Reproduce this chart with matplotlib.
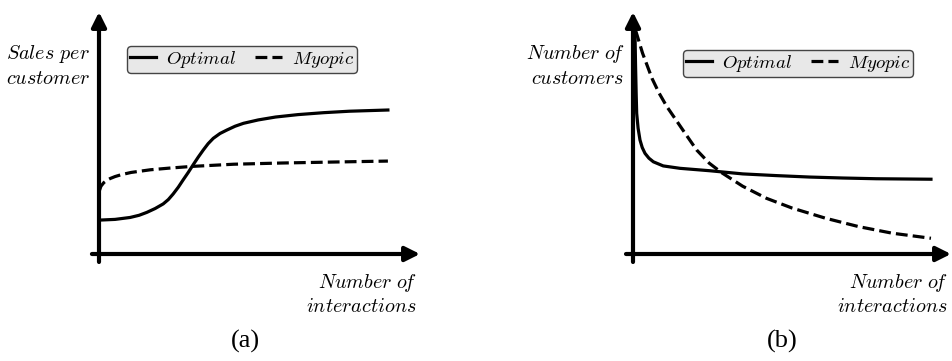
import matplotlib
matplotlib.use('Agg')
import matplotlib.pyplot as plt

plt.rcParams['mathtext.fontset'] = 'cm'

# (a) sales per customer vs number of interactions
sales_opt_x = [0, 0.5, 0.97, 1.25, 1.49, 1.75, 2.00, 2.16, 2.31, 2.47, 2.62, 2.78, 2.93, 3.09,
               3.25, 3.40, 3.56, 3.77, 3.98, 4.24, 4.50, 4.96, 5.5, 6.2, 7.0, 7.8, 9.0]
sales_opt_y = [1.40, 1.43, 1.51, 1.60, 1.72, 1.88, 2.07, 2.25, 2.48, 2.76, 3.06, 3.37, 3.68, 4.00,
               4.30, 4.56, 4.78, 4.98, 5.12, 5.28, 5.40, 5.54, 5.66, 5.76, 5.84, 5.90, 5.95]
sales_myo_x = [0, 0.06, 0.15, 0.25, 0.35, 0.5, 0.7, 1.0, 1.6, 2.2, 2.9, 4.2, 5.7, 7.3, 9.0]
sales_myo_y = [2.57, 2.80, 2.95, 3.05, 3.12, 3.20, 3.28, 3.37, 3.48, 3.55, 3.62, 3.71, 3.76, 3.80, 3.84]

# (b) number of customers vs number of interactions
cust_opt_x = [0.06, 0.08, 0.10, 0.116, 0.16, 0.22, 0.29, 0.377, 0.5, 0.64, 0.95, 1.48, 2.42,
              3.45, 4.5, 5.55, 6.6, 7.65, 9.37]
cust_opt_y = [9.33, 7.8, 6.6, 5.81, 5.2, 4.71, 4.4, 4.16, 3.96, 3.81, 3.64, 3.54, 3.44,
              3.31, 3.24, 3.18, 3.14, 3.11, 3.09]
cust_myo_x = [0.08, 0.3, 0.6, 0.82, 1.06, 1.32, 1.58, 2.0, 2.4, 2.8, 3.45, 4.2, 5.0, 6.05, 7.1, 8.15, 9.37]
cust_myo_y = [9.25, 8.3, 7.25, 6.65, 6.1, 5.6, 5.1, 4.3, 3.75, 3.35, 2.80, 2.30, 1.90, 1.48, 1.13, 0.86, 0.65]

W, H = 952, 361


def sketch_axes(ax):
    ax.set_xlim(0, 10)
    ax.set_ylim(0, 10)
    for s in ax.spines.values():
        s.set_visible(False)
    ax.set_xticks([])
    ax.set_yticks([])
    ax.patch.set_alpha(0)
    arrow = dict(arrowstyle='-|>', lw=3, color='k', mutation_scale=22,
                 shrinkA=0, shrinkB=0)
    ax.annotate('', xy=(1.0, 0), xytext=(-0.022, 0), xycoords='axes fraction',
                arrowprops=arrow, annotation_clip=False)
    ax.annotate('', xy=(0, 1.0), xytext=(0, -0.033), xycoords='axes fraction',
                arrowprops=arrow, annotation_clip=False)


def draw_panel(ax, ox, oy, mx, my, ylabel, leg_anchor):
    sketch_axes(ax)
    ax.plot(ox, oy, '-', color='k', lw=2.3, label=r'$\mathit{Optimal}$',
            clip_on=False, solid_joinstyle='round')
    ax.plot(mx, my, '--', color='k', lw=2.3, label=r'$\mathit{Myopic}$', clip_on=False)
    leg = ax.legend(loc='upper left', bbox_to_anchor=leg_anchor, borderaxespad=0,
                    ncol=2, fontsize=13.5, frameon=True, fancybox=True,
                    facecolor='#e8e8e8', edgecolor='#444444', framealpha=1,
                    handlelength=1.4, columnspacing=1.0, handletextpad=0.55,
                    borderpad=0.15)
    leg.get_frame().set_linewidth(1.0)
    ax.text(-0.028, 0.78, ylabel, transform=ax.transAxes, ha='right', va='center',
            fontsize=14.5, linespacing=1.25)
    ax.text(0.99, -0.165, '$\\mathit{Number\\ o\\!f}$\n$\\mathit{interactions}$',
            transform=ax.transAxes, ha='right', va='center',
            fontsize=14.5, linespacing=1.25)


fig = plt.figure(figsize=(W / 100, H / 100), dpi=100)

ax_a = fig.add_axes([99 / W, (H - 254) / H, 321 / W, 242 / H])
draw_panel(ax_a, sales_opt_x, sales_opt_y, sales_myo_x, sales_myo_y,
           '$\\mathit{Sales\\ per}$\n$\\mathit{customer}$', (0.087, 0.86))

ax_b = fig.add_axes([633 / W, (H - 254) / H, 318 / W, 242 / H])
draw_panel(ax_b, cust_opt_x, cust_opt_y, cust_myo_x, cust_myo_y,
           '$\\mathit{Number\\ o\\!f}$\n$\\mathit{customers}$', (0.157, 0.843))

fig.text(245 / W, 1 - 341 / H, '(a)', ha='center', va='center',
         fontsize=19, family='Liberation Serif')
fig.text(782 / W, 1 - 341 / H, '(b)', ha='center', va='center',
         fontsize=19, family='Liberation Serif')

fig.savefig('out.png', dpi=100)
